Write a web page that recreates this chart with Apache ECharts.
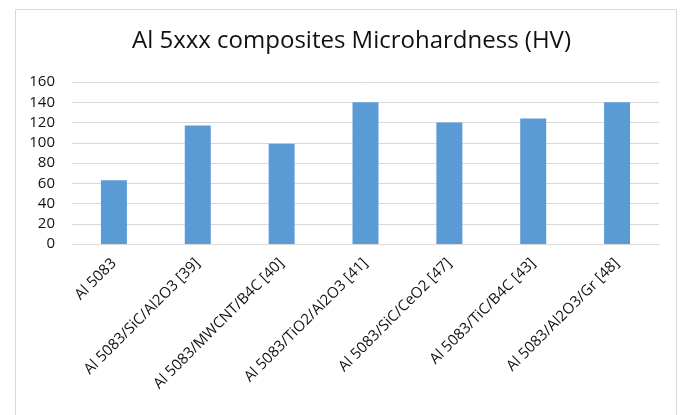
<!DOCTYPE html>
<html><head><meta charset="utf-8">
<script src="https://cdn.jsdelivr.net/npm/echarts@6/dist/echarts.min.js"></script>
<style>html,body{margin:0;padding:0;background:#fff}#c{width:684px;height:415px}</style>
</head><body><div id="c"></div>
<script>
const categories = ["Al 5083","Al 5083/SiC/Al2O3 [39]","Al 5083/MWCNT/B4C [40]","Al 5083/TiO2/Al2O3 [41]","Al 5083/SiC/CeO2 [47]","Al 5083/TiC/B4C [43]","Al 5083/Al2O3/Gr [48]"];
const hardness = [63,117,99,140,120,124,140];
const titleText = "Al 5xxx composites Microhardness (HV)";
const chart = echarts.init(document.getElementById('c'));
chart.setOption({
  animation:false,
  backgroundColor:'#fff',
  graphic:[{type:'rect',shape:{x:15.5,y:9.5,width:661,height:420},style:{fill:'none',stroke:'#d9d9d9',lineWidth:1},z:-1}],
  title:{text:titleText,left:127,top:24,textStyle:{fontFamily:'Open Sans',fontSize:24,fontWeight:'normal',color:'#111'}},
  grid:{left:72,right:25,top:82,bottom:171,containLabel:false},
  xAxis:{type:'category',data:categories,
    axisLine:{lineStyle:{color:'#d9d9d9'}},axisTick:{show:false},
    axisLabel:{rotate:45,interval:0,margin:17,fontFamily:'Open Sans',fontSize:15,color:'#111'}},
  yAxis:{type:'value',min:0,max:160,interval:20,
    axisLine:{show:false},axisTick:{show:false},
    splitLine:{lineStyle:{color:'#d9d9d9',width:1}},
    axisLabel:{margin:17,fontFamily:'Open Sans',fontSize:15,color:'#111'}},
  series:[{type:'bar',data:hardness,barWidth:'31%',itemStyle:{color:'#5b9bd5'}}]
});
</script></body></html>
